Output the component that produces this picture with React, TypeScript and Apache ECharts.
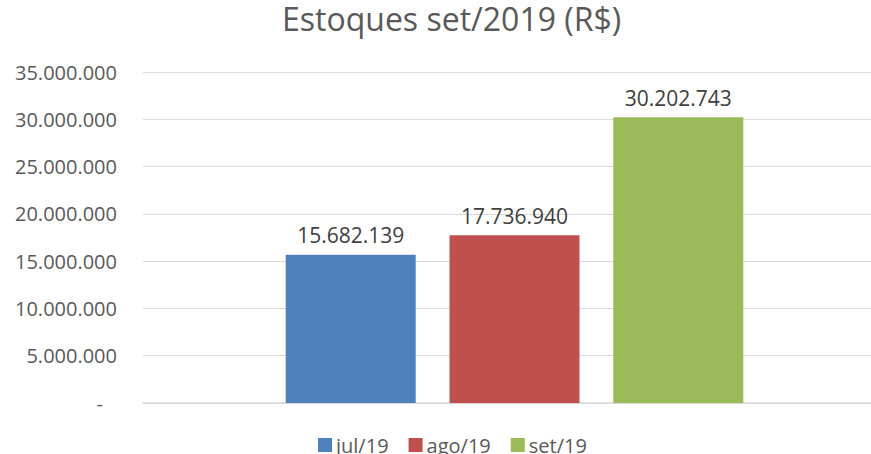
import React, { useEffect, useRef } from "react";
import * as echarts from "echarts";

const titleText = "Estoques set/2019 (R$)";
const categories = ["Estoques"];
const seriesNames = ["jul/19", "ago/19", "set/19"];
const seriesValues = [15682139, 17736940, 30202743];
const seriesColors = ["#4F81BD", "#C0504D", "#9BBB59"];
const yMax = 35000000;
const yInterval = 5000000;

const fmt = (v: number) =>
  Math.round(v)
    .toString()
    .replace(/\B(?=(\d{3})+(?!\d))/g, ".");

export default function App() {
  const ref = useRef<HTMLDivElement>(null);
  useEffect(() => {
    if (!ref.current) return;
    const chart = echarts.init(ref.current, null, { renderer: "svg" });
    const font = "'Open Sans', sans-serif";
    chart.setOption({
      animation: false,
      textStyle: { fontFamily: font },
      title: {
        text: titleText,
        left: 282,
        top: 2,
        padding: 0,
        textStyle: { fontFamily: font, fontSize: 32, fontWeight: "normal", color: "#595959" },
      },
      legend: {
        data: seriesNames,
        left: 318,
        top: 435,
        padding: 0,
        itemWidth: 14,
        itemHeight: 14,
        itemGap: 20,
        icon: "rect",
        textStyle: { fontFamily: font, fontSize: 20, color: "#595959", padding: [0, 0, 0, -1] },
      },
      grid: {
        left: 143,
        right: -15,
        top: 72,
        bottom: 51,
        containLabel: false,
        outerBoundsMode: "none",
      },
      xAxis: {
        type: "category",
        data: categories,
        axisLine: { show: true, lineStyle: { color: "#d9d9d9", width: 1.5 } },
        axisTick: { show: false },
        axisLabel: { show: false },
      },
      yAxis: {
        type: "value",
        min: 0,
        max: yMax,
        interval: yInterval,
        axisLine: { show: false },
        axisTick: { show: false },
        splitLine: { lineStyle: { color: "#d9d9d9", width: 1 } },
        axisLabel: {
          margin: 26,
          fontFamily: font,
          fontSize: 20,
          color: "#595959",
          formatter: (v: number) => (v === 0 ? "{d|-}" : fmt(v)),
          rich: { d: { fontFamily: font, fontSize: 20, color: "#595959", padding: [0, 14, 0, 0] } },
        },
      },
      series: seriesNames.map((name, i) => ({
        name,
        type: "bar",
        data: [seriesValues[i]],
        barWidth: 130,
        barGap: "26%",
        itemStyle: { color: seriesColors[i] },
        label: {
          show: true,
          position: "top",
          distance: 9,
          fontFamily: font,
          fontSize: 21,
          color: "#404040",
          formatter: (p: any) => fmt(p.value),
        },
      })),
    });
    return () => chart.dispose();
  }, []);
  return (
    <div
      ref={ref}
      style={{ position: "fixed", left: 0, top: 0, width: 871, height: 454, background: "#fff" }}
    />
  );
}
